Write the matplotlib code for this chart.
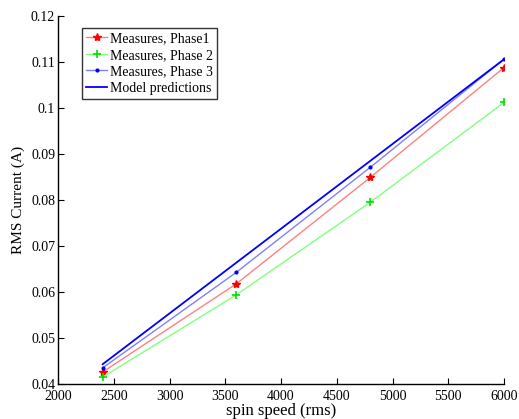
import matplotlib
matplotlib.use("Agg")
import matplotlib.pyplot as plt

# spin speeds and measured currents
speed = [2400, 3600, 4800, 6000]
phase1 = [0.0426, 0.0618, 0.0849, 0.1088]
phase2 = [0.0415, 0.0594, 0.0795, 0.1012]
phase3 = [0.0435, 0.0643, 0.0871, 0.1106]
model = [0.0443, 0.0664, 0.0885, 0.1106]

xticks = [2000, 2500, 3000, 3500, 4000, 4500, 5000, 5500, 6000]
yticks = [0.04, 0.05, 0.06, 0.07, 0.08, 0.09, 0.10, 0.11, 0.12]
ytick_labels = ["0.04", "0.05", "0.06", "0.07", "0.08", "0.09", "0.1", "0.11", "0.12"]

plt.rcParams['font.family'] = ['Liberation Serif', 'DejaVu Serif']

fig = plt.figure(figsize=(5.19, 4.19), dpi=100)
ax = fig.add_axes([0.1118, 0.0835, 0.8594, 0.8783])

# light lines with full colour markers, like the matlab plot
l1, = ax.plot(speed, phase1, color='#ff8080', lw=1)
m1, = ax.plot(speed, phase1, ls='none', marker='*', ms=6, color='#ff0000')
l2, = ax.plot(speed, phase2, color='#80ff80', lw=1)
m2, = ax.plot(speed, phase2, ls='none', marker='+', ms=6, mew=1.2, color='#00e000')
l3, = ax.plot(speed, phase3, color='#8080ff', lw=1)
m3, = ax.plot(speed, phase3, ls='none', marker='.', ms=4, color='#0000ff')
lm, = ax.plot(speed, model, color='#0000ff', lw=1.3)

ax.set_xlim(2000, 6000)
ax.set_ylim(0.04, 0.12)
ax.set_xticks(xticks)
ax.set_yticks(yticks)
ax.set_yticklabels(ytick_labels)
ax.tick_params(direction='in', length=4, labelsize=10, width=0.8)
ax.tick_params(axis='x', pad=4)
ax.tick_params(axis='y', pad=2)
ax.spines['top'].set_visible(False)
ax.spines['right'].set_visible(False)
for s in ['left', 'bottom']:
    ax.spines[s].set_linewidth(1)

ax.set_xlabel('spin speed (rms)', fontsize=12, labelpad=0)
ax.set_ylabel('RMS Current (A)', fontsize=11, labelpad=4)

leg = ax.legend([(l1, m1), (l2, m2), (l3, m3), lm],
                ['Measures, Phase1', 'Measures, Phase 2', 'Measures, Phase 3', 'Model predictions'],
                loc='upper left', bbox_to_anchor=(0.054, 0.967), borderaxespad=0,
                fontsize=10, fancybox=False, handlelength=1.5, handletextpad=0.2,
                labelspacing=0.25, borderpad=0.3)
leg.get_frame().set_edgecolor('black')
leg.get_frame().set_linewidth(1)

fig.savefig('out.png', dpi=100)
